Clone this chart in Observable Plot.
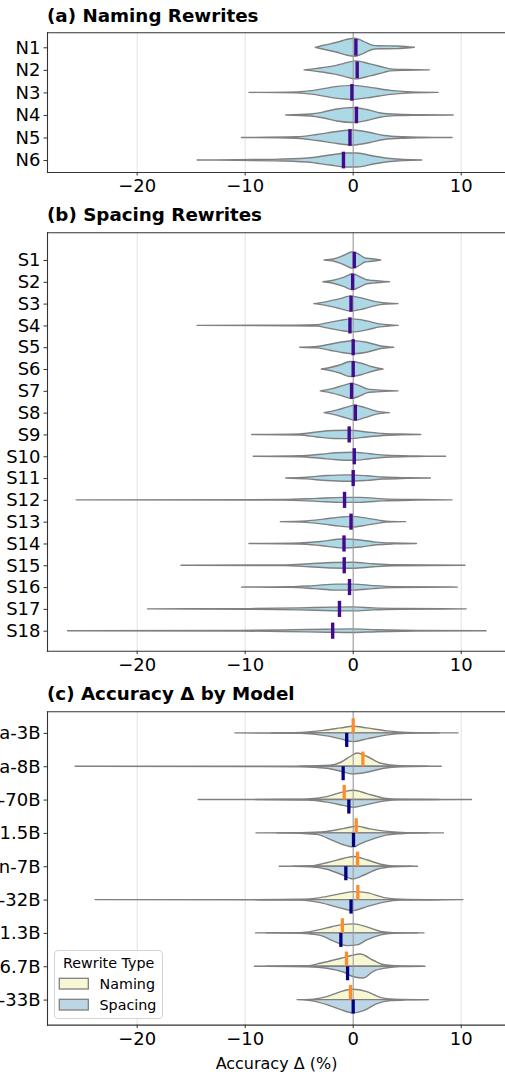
<!DOCTYPE html>
<html>
<head>
<meta charset="utf-8">
<script src="https://cdn.jsdelivr.net/npm/d3@7"></script>
<script src="https://cdn.jsdelivr.net/npm/@observablehq/plot@0.6"></script>
<style>
  html, body { margin: 0; padding: 0; background: #fff; }
  #wrap { position: relative; width: 505px; height: 1072px; overflow: hidden; font-family: "DejaVu Sans", sans-serif; }
  .ptitle { position: absolute; left: 47px; font-weight: bold; font-size: 18.3px; line-height: 18.3px; color: #000; white-space: nowrap; }
  .pnl { position: absolute; left: 0; }
  #legend { position: absolute; left: 54px; top: 950px; z-index: 5; }
</style>
</head>
<body>
<div id="wrap"></div>
<script>
// ---------------- DATA ----------------
const xTicks = [-20, -10, 0, 10];
const xDomain = [-28.3, 14.1];
const referenceLine = [0];

// (a) Naming rewrites: violin profiles as [value, density]
const namingRewrites = ["N1", "N2", "N3", "N4", "N5", "N6"];
const namingProfiles = [
  [[-3.46,0],[-2.7,2],[-1.45,5],[-0.5,8],[0.2,9],[1.0,6],[1.8,2.2],[2.4,1.5],[4.1,1.3],[5.0,0.7],[5.7,0]],
  [[-4.5,0],[-3.3,1.5],[-1.76,4],[-0.8,6.5],[0.25,9],[1.6,6],[2.9,2.5],[3.5,1],[5,0.4],[7.1,0]],
  [[-9.6,0],[-5.2,0.5],[-3.6,2],[-1.76,5.5],[0,7],[1.3,5.5],[3.5,2],[5.0,0.7],[7.9,0]],
  [[-6.2,0],[-3.9,1],[-2.7,3],[-1.45,6],[0,7.5],[1.3,5.5],[2.6,2],[4.1,0.7],[6,0.3],[9.3,0]],
  [[-10.3,0],[-5.2,0.7],[-3.3,3],[-1.45,6],[0,7.5],[1.6,5],[2.9,2],[4.7,0.7],[6.5,0.3],[9.2,0]],
  [[-14.4,0],[-7.3,0.7],[-4.2,2],[-2.1,5],[-0.5,7],[0.4,7],[1.9,4],[3.5,1.5],[6.4,0]]
];
const namingMedians = [0.25, 0.37, -0.12, 0.3, -0.3, -0.9];

// (b) Spacing rewrites
const spacingRewrites = ["S1","S2","S3","S4","S5","S6","S7","S8","S9","S10","S11","S12","S13","S14","S15","S16","S17","S18"];
const spacingProfiles = [
  [[-2.65,0],[-1.8,1],[-0.86,4.5],[0,8.3],[0.68,5],[1.14,2],[1.6,1.5],[2.6,0]],
  [[-2.75,0],[-1.8,1.5],[-0.86,4.5],[0,8],[0.68,5],[1.3,2],[1.9,1.3],[3.4,0]],
  [[-3.6,0],[-2.4,2],[-1.17,5],[-0.25,7.5],[0.7,6],[1.9,2.5],[2.8,0.8],[4.2,0]],
  [[-14.4,0],[-6,0.3],[-3.3,0.6],[-2.4,2.5],[-1.17,5],[0,6.5],[1.3,4.5],[2.5,1.5],[3.5,0.5],[4.2,0]],
  [[-4.9,0],[-3.3,0.7],[-2.1,3],[-0.86,5.5],[0,6.5],[1.3,5],[2.5,1.5],[3.8,0]],
  [[-2.9,0],[-2.1,1.5],[-1.2,4],[-0.25,7.5],[0.7,6],[1.9,2],[2.8,0]],
  [[-3.0,0],[-1.8,2.5],[-0.86,5.5],[-0.1,7.5],[0.68,5],[1.3,2],[2.2,1],[4.2,0]],
  [[-2.65,0],[-1.5,2.5],[-0.55,5.5],[0.2,7.5],[1.14,5],[2.2,1.5],[3.4,0]],
  [[-9.35,0],[-4.9,0.5],[-3.3,2.5],[-1.8,4],[-0.25,4.2],[1.3,2.5],[2.8,1],[4.4,0.4],[6.3,0]],
  [[-9.2,0],[-4.9,0.5],[-3.0,2],[-1.5,3.5],[0,4],[1.6,2.5],[3.1,1],[5.9,0.3],[8.6,0]],
  [[-6.2,0],[-4.3,0.8],[-2.4,2.5],[-0.55,3.2],[1.3,2.3],[2.8,1],[5,0.3],[7.2,0]],
  [[-25.6,0],[-6.4,0.3],[-3.3,1.5],[-0.9,2.5],[0.7,2.5],[2.8,1],[5.9,0.3],[9.2,0]],
  [[-6.7,0],[-4.3,0.7],[-2.7,2.5],[-1.2,4.5],[-0.1,5.3],[1.3,3.5],[2.4,1.5],[3.1,0.5],[4.9,0]],
  [[-9.6,0],[-4.9,0.5],[-3.0,2],[-0.9,4.5],[0.7,3.5],[2.2,1.3],[3.8,0.4],[5.9,0]],
  [[-15.9,0],[-6.4,0.3],[-4,1.5],[-1.8,2.8],[0,3],[1.9,1.5],[3.8,0.5],[10.4,0]],
  [[-10.3,0],[-5.8,0.3],[-3.6,1.5],[-1.5,3],[0.1,3],[1.9,1.5],[3.8,0.5],[9.7,0]],
  [[-19,0],[-9.5,0.3],[-4.9,1],[-1.8,1.8],[0.1,2],[1.9,1],[4.4,0.4],[10.5,0]],
  [[-26.4,0],[-11,0.3],[-6.4,0.8],[-2.4,1.5],[-0.2,1.8],[2.2,1],[5.9,0.3],[12.35,0]]
];
const spacingMedians = [0.1,-0.05,-0.2,-0.3,0,0,-0.15,0.2,-0.37,0.1,0,-0.8,-0.2,-0.85,-0.83,-0.34,-1.27,-1.9];

// (c) Accuracy by model (split violins)
const models = ["a-3B", "a-8B", "-70B", "1.5B", "n-7B", "-32B", "1.3B", "6.7B", "-33B"];
const rewriteTypes = ["Naming", "Spacing"];
const modelNamingProfiles = [
  [[-7.5,0],[-4.8,0.5],[-2.7,2.5],[-1.1,5],[0,6.7],[1.3,5],[3.2,2],[5,0.5],[9.75,0]],
  [[-5,0],[-2.1,1],[-1.1,4],[-0.2,10],[0.4,13.3],[1.3,10],[2.6,3],[4.4,0.5],[8.2,0]],
  [[-14.3,0],[-6,0.3],[-4.2,0.7],[-2.4,3],[-0.8,8],[0.1,9.3],[1.3,6],[2.9,1.5],[4.4,0.3],[8,0]],
  [[-8.95,0],[-4.8,0.3],[-2.4,1.5],[-0.8,4.5],[0.4,6.7],[1.6,4],[3.2,1.5],[5,0.3],[8.4,0]],
  [[-6.8,0],[-3.9,0.5],[-2.4,3.5],[-0.8,8],[0.1,9.7],[1.3,6.5],[2.6,2],[3.8,0.3],[6.0,0]],
  [[-9,0],[-4.8,0.3],[-3,2],[-1.1,6],[0.1,8],[1.3,7],[2.9,2],[4.4,0.5],[8,0]],
  [[-9.0,0],[-4.8,0.3],[-3.6,2],[-2.4,5],[-1.1,8],[0.1,9],[1.3,6],[2.6,1.5],[3.8,0.3],[6.6,0]],
  [[-9.1,0],[-4.2,0.5],[-3,3],[-1.1,8],[-0.2,10.5],[0.7,12.3],[1.9,6],[2.9,1.5],[4.4,0.3],[6.7,0]],
  [[-4.5,0],[-3.6,0.5],[-2.4,3],[-1.1,8],[0,10.3],[1.3,8],[2.6,2],[3.8,0.5],[7.0,0]]
];
const modelSpacingProfiles = [
  [[-10.9,0],[-4.8,0.5],[-2.4,3],[-1.1,6],[0,8.7],[1.3,6],[3.2,2],[5,0.5],[8,0]],
  [[-25.7,0],[-10,0.3],[-4.8,0.5],[-2.4,2],[-1.1,5],[0,7.7],[1.3,6],[2.9,2],[4.4,0.5],[7,0]],
  [[-9,0],[-4.2,0.5],[-2.4,2.5],[-0.8,6],[0.1,7.7],[1.3,5],[2.9,1.5],[4.4,0.3],[11.0,0]],
  [[-7,0],[-4.8,0.5],[-3.3,1.5],[-1.76,8],[-0.5,13],[0.1,14],[0.7,11],[1.9,6],[3.2,2],[5,0.5],[7,0]],
  [[-5.5,0],[-3.9,0.5],[-2.4,3],[-1.1,8],[0,12.7],[1.0,9],[2.25,3],[3.8,0.5],[5.5,0]],
  [[-23.85,0],[-10,0.3],[-4.8,0.5],[-3,3],[-1.1,8.5],[0,11],[1.3,7],[2.9,2.5],[4.4,0.5],[7,0.4],[10.2,0]],
  [[-8,0],[-4.8,0.5],[-3,2.5],[-1.8,8],[-0.5,12.7],[0.4,12],[1.3,7],[2.6,2],[3.8,0.5],[6,0]],
  [[-8,0],[-4.2,0.5],[-2.4,2],[-0.8,6],[0.1,10.5],[1.0,11.7],[1.9,5],[3.2,1.5],[4.4,0.3],[6.5,0]],
  [[-5.15,0],[-3.6,1.5],[-2.4,5],[-1.1,10],[0,13.3],[1.0,11],[2.25,4],[3.5,1],[5,0.3],[7,0]]
];
const modelNamingMedians = [0.0, 0.9, -0.83, 0.28, 0.4, 0.43, -1.0, -0.62, -0.25];
const modelSpacingMedians = [-0.6, -0.93, -0.4, 0.03, -0.68, -0.2, -1.14, -0.52, 0.0];

// ---------------- STYLE ----------------
const FONT = "DejaVu Sans";
const violinFill = "#add8e6";
const namingFill = "#f7f7d4";
const spacingFill = "#bcd6e6";
const outline = "#808080";
const medianColor = "#420a8c";
const namingMedianColor = "#fd8d2c";
const spacingMedianColor = "#000080";
const spineColor = "#333";

const fmt = d => d < 0 ? "\u2212" + (-d) : String(d);
const rowsOf = profiles => profiles.flatMap((p, i) => p.map(([x, d]) => ({i, x, d})));

function makePanel({names, padTop, padBottom, plotHeight, marginBottom, marks, xLabel}) {
  const marginTop = 4.3;
  const n = names.length;
  const extra = xLabel ? [Plot.text([xLabel], {frameAnchor: "bottom", dy: 44, lineAnchor: "bottom", fontSize: 16, fill: "#000"})] : [];
  return Plot.plot({
    width: 505,
    height: marginTop + plotHeight + marginBottom,
    marginTop, marginBottom, marginLeft: 47, marginRight: 0,
    style: {fontFamily: FONT, fontSize: "18px", color: "#000", background: "transparent", overflow: "hidden"},
    x: {domain: xDomain},
    y: {domain: [-padTop, n - 1 + padBottom], range: [marginTop, marginTop + plotHeight]},
    marks: [
      Plot.gridX(xTicks, {stroke: "#e3e3e3", strokeOpacity: 1, strokeWidth: 1}),
      ...marks,
      Plot.frame({anchor: "top", stroke: spineColor, strokeWidth: 1.1}),
      Plot.frame({anchor: "bottom", stroke: spineColor, strokeWidth: 1.1}),
      Plot.frame({anchor: "left", stroke: spineColor, strokeWidth: 1.1}),
      Plot.axisY({ticks: d3.range(n), tickFormat: i => names[i], tickSize: 3.5, tickPadding: 3.5, stroke: spineColor, label: null, fill: "#000", fontSize: 18}),
      Plot.axisX({ticks: xTicks, tickFormat: fmt, tickSize: 3.5, tickPadding: 3.5, stroke: spineColor, fill: "#000", label: null, fontSize: 18}),
      ...extra
    ]
  });
}

function simpleViolins(profiles, medians, step) {
  const k = 1 / step;
  return [
    Plot.areaY(rowsOf(profiles), {x: "x", y1: r => r.i - r.d * k, y2: r => r.i + r.d * k, z: "i",
      fill: violinFill, stroke: outline, strokeWidth: 1.4, curve: "monotone-x"}),
    Plot.ruleX(referenceLine, {stroke: "#999", strokeWidth: 1}),
    Plot.ruleX(medians, {x: d => d, y1: (d, i) => i - 0.37, y2: (d, i) => i + 0.37, stroke: medianColor, strokeWidth: 3.4})
  ];
}

const wrap = document.getElementById("wrap");
function addTitle(text, top) {
  const t = document.createElement("div");
  t.className = "ptitle"; t.style.top = top + "px"; t.textContent = text;
  wrap.appendChild(t);
}
function addPanel(svg, top) {
  svg.classList.add("pnl");
  svg.style.top = top + "px";
  wrap.appendChild(svg);
}

// (a)
addTitle("(a) Naming Rewrites", 7.2);
addPanel(makePanel({
  names: namingRewrites, padTop: 0.665, padBottom: 0.53, plotHeight: 139.7, marginBottom: 30,
  marks: simpleViolins(namingProfiles, namingMedians, 22.54)
}), 28);

// (b)
addTitle("(b) Spacing Rewrites", 206.3);
addPanel(makePanel({
  names: spacingRewrites, padTop: 1.27, padBottom: 0.917, plotHeight: 418.4, marginBottom: 30,
  marks: simpleViolins(spacingProfiles, spacingMedians, 21.81)
}), 228);

// (c)
const kc = 1 / 33.34;
addTitle("(c) Accuracy \u0394 by Model", 684.8);
addPanel(makePanel({
  names: models, padTop: 0.648, padBottom: 0.75, plotHeight: 313.3, marginBottom: 47,
  xLabel: "Accuracy \u0394 (%)",
  marks: [
    Plot.areaY(rowsOf(modelNamingProfiles), {x: "x", y1: r => r.i - r.d * kc, y2: r => r.i, z: "i",
      fill: namingFill, stroke: outline, strokeWidth: 1.4, curve: "monotone-x"}),
    Plot.areaY(rowsOf(modelSpacingProfiles), {x: "x", y1: r => r.i, y2: r => r.i + r.d * kc, z: "i",
      fill: spacingFill, stroke: outline, strokeWidth: 1.4, curve: "monotone-x"}),
    Plot.ruleX(referenceLine, {stroke: "#999", strokeWidth: 1}),
    Plot.ruleX(modelNamingMedians, {x: d => d, y1: (d, i) => i - 0.44, y2: (d, i) => i, stroke: namingMedianColor, strokeWidth: 3.3}),
    Plot.ruleX(modelSpacingMedians, {x: d => d, y1: (d, i) => i, y2: (d, i) => i + 0.42, stroke: spacingMedianColor, strokeWidth: 3.3})
  ]
}), 707.4);

// legend
const fills = [namingFill, spacingFill];
const lg = d3.select(wrap).append("svg").attr("id", "legend").attr("width", 109).attr("height", 69)
  .style("font-family", FONT).style("font-size", "14.3px");
lg.append("rect").attr("x", 0.5).attr("y", 0.5).attr("width", 108).attr("height", 68).attr("rx", 3.5)
  .attr("fill", "white").attr("fill-opacity", 0.8).attr("stroke", "#d3d3d3");
lg.append("text").attr("x", 54.7).attr("y", 17.5).attr("text-anchor", "middle").text("Rewrite Type");
rewriteTypes.forEach((name, j) => {
  lg.append("rect").attr("x", 5.3).attr("y", 28.3 + j * 21).attr("width", 29).attr("height", 10.7)
    .attr("fill", fills[j]).attr("stroke", outline).attr("stroke-width", 1.3);
  lg.append("text").attr("x", 45.5).attr("y", 38.5 + j * 21).text(name);
});
</script>
</body>
</html>
